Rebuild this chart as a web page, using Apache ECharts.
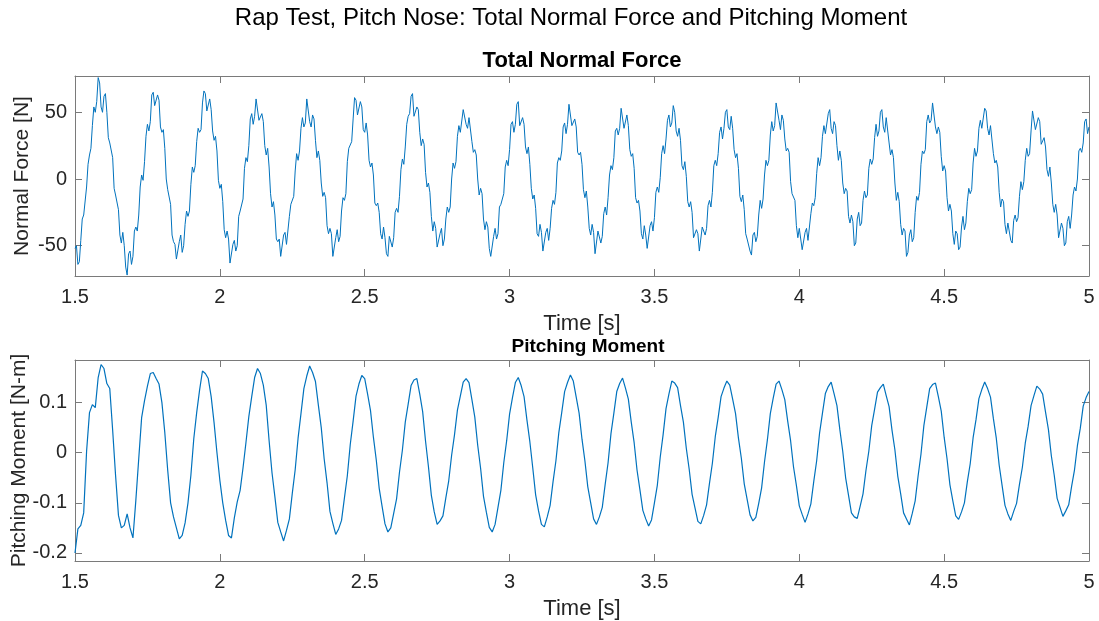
<!DOCTYPE html>
<html>
<head>
<meta charset="utf-8">
<script src="https://cdn.jsdelivr.net/npm/echarts@6/dist/echarts.min.js"></script>
<style>
  html, body { margin: 0; padding: 0; background: #fff; }
  #chart { width: 1099px; height: 621px; }
</style>
</head>
<body>
<div id="chart"></div>
<script>
// force read every 5 ms, moment every 10 ms, both from 1.50 s to 5.00 s
const forceStart = 300;   // in 1/200 s
const momentStart = 150;  // in 1/100 s
const timeTicks = [1.5, 2, 2.5, 3, 3.5, 4, 4.5, 5];
const forceTicks = [-50, 0, 50];
const momentTicks = [-0.2, -0.1, 0, 0.1];

const forceValues = [
  -52, -50, -64, -62, -46, -30, -27, -26, -6, 11, 18, 23, 40, 54, 50, 58, 76, 72, 54, 50,
  62, 64, 50, 31, 27, 28, 16, -7, -12, -13, -23, -42, -48, -40, -50, -66, -72, -56, -54, -64,
  -58, -39, -36, -39, -27, -6, 3, -1, 13, 32, 41, 36, 43, 63, 65, 55, 54, 63, 59, 39,
  35, 37, 23, 0, -8, -8, -19, -42, -47, -49, -60, -60, -47, -42, -55, -50, -34, -24, -28, -24,
  -4, 9, 5, 10, 28, 38, 35, 37, 57, 66, 64, 51, 50, 60, 52, 36, 29, 32, 21, -1,
  -7, -4, -17, -38, -44, -39, -45, -63, -62, -49, -46, -54, -50, -28, -24, -25, -15, 8, 16, 13,
  25, 45, 49, 41, 47, 60, 61, 44, 45, 49, 43, 25, 18, 23, 9, -11, -21, -17, -27, -45,
  -47, -45, -58, -57, -42, -40, -49, -48, -28, -19, -20, -13, 6, 19, 14, 21, 38, 46, 39, 42,
  60, 60, 43, 39, 48, 45, 29, 16, 21, 14, -3, -13, -10, -14, -35, -41, -37, -41, -58, -59,
  -44, -38, -47, -43, -24, -14, -16, -11, 13, 23, 23, 28, 45, 61, 59, 48, 47, 58, 54, 37,
  35, 42, 33, 14, 9, 12, 3, -18, -20, -18, -25, -41, -45, -36, -44, -56, -58, -43, -42, -51,
  -44, -25, -22, -25, -13, 7, 15, 11, 24, 41, 47, 49, 62, 64, 47, 46, 54, 52, 35, 25,
  30, 26, 5, -6, -3, -10, -28, -39, -32, -37, -51, -52, -41, -37, -50, -45, -30, -21, -25, -21,
  0, 12, 8, 13, 32, 40, 35, 35, 52, 52, 41, 38, 46, 46, 28, 20, 22, 18, 0, -12,
  -7, -11, -30, -38, -32, -36, -52, -58, -58, -43, -37, -45, -41, -21, -19, -20, -11, 9, 14, 10,
  22, 41, 43, 35, 41, 56, 58, 40, 40, 46, 41, 24, 19, 24, 11, -7, -15, -12, -22, -41,
  -43, -34, -40, -54, -54, -40, -37, -46, -37, -22, -16, -19, -10, 12, 16, 14, 21, 39, 42, 34,
  41, 56, 55, 40, 39, 45, 39, 20, 18, 20, 11, -8, -14, -9, -21, -37, -42, -34, -40, -56,
  -55, -39, -39, -48, -43, -26, -21, -27, -14, 3, 10, 7, 16, 36, 38, 33, 38, 53, 53, 38,
  39, 48, 40, 22, 17, 19, 8, -14, -18, -16, -24, -41, -45, -35, -42, -52, -52, -35, -32, -39,
  -29, -10, -6, -10, 1, 19, 25, 19, 30, 44, 48, 39, 42, 55, 50, 36, 32, 38, 29, 10,
  7, 13, 2, -17, -21, -17, -25, -44, -45, -38, -41, -54, -54, -36, -36, -42, -37, -20, -16, -21,
  -10, 10, 14, 10, 19, 35, 39, 30, 38, 50, 52, 39, 37, 47, 38, 22, 16, 19, 8, -13,
  -17, -12, -23, -41, -45, -44, -54, -57, -42, -40, -47, -43, -27, -16, -22, -15, 3, 14, 10, 14,
  33, 43, 36, 40, 57, 57, 44, 37, 48, 44, 30, 21, 23, 20, -2, -11, -10, -16, -35, -44,
  -37, -37, -53, -54, -40, -37, -46, -45, -26, -18, -20, -14, 4, 16, 10, 16, 32, 40, 34, 34,
  49, 52, 38, 34, 43, 40, 25, 14, 21, 14, -3, -11, -7, -9, -28, -33, -27, -32, -50, -48,
  -30, -25, -35, -33, -16, -9, -14, -12, 8, 15, 11, 15, 31, 41, 32, 36, 50, 52, 39, 35,
  46, 45, 27, 18, 22, 16, -3, -16, -10, -17, -34, -42, -37, -39, -58, -55, -42, -38, -47, -44,
  -25, -13, -16, -10, 11, 21, 19, 22, 43, 48, 42, 44, 57, 57, 39, 34, 39, 35, 17, 6,
  10, 6, -14, -24, -19, -24, -41, -49, -39, -41, -53, -51, -36, -28, -38, -33, -17, -7, -11, -8,
  12, 23, 17, 21, 38, 44, 38, 37, 53, 51, 38, 33, 40, 39, 19, 12, 14, 9, -10, -21,
  -15, -17, -34, -41, -33, -34, -46, -48, -31, -27, -32, -29, -13, -2, -8, -2, 14, 23, 17, 19,
  36, 51, 50, 37, 37, 46, 43, 26, 27, 31, 24, 7, 2, 9, -3, -19, -25, -19, -27, -44,
  -44, -33, -37, -50, -48, -32, -28, -37, -27, -12, -6, -9, 0, 21, 23, 20, 27, 43, 45, 34,
  39
];

const momentValues = [
  -0.200, -0.152, -0.145, -0.120, 0.003, 0.080, 0.096, 0.090, 0.150, 0.176,
  0.168, 0.138, 0.128, 0.045, -0.045, -0.125, -0.150, -0.145, -0.122, -0.150,
  -0.170, -0.095, -0.012, 0.070, 0.104, 0.133, 0.158, 0.160, 0.148, 0.137,
  0.100, 0.040, -0.035, -0.100, -0.128, -0.150, -0.172, -0.165, -0.140, -0.100,
  -0.045, 0.028, 0.080, 0.125, 0.163, 0.158, 0.148, 0.112, 0.060, 0.000,
  -0.055, -0.100, -0.135, -0.165, -0.170, -0.130, -0.098, -0.075, -0.030, 0.020,
  0.072, 0.112, 0.150, 0.168, 0.158, 0.135, 0.095, 0.024, -0.040, -0.088,
  -0.139, -0.158, -0.176, -0.155, -0.132, -0.081, -0.034, 0.029, 0.078, 0.128,
  0.153, 0.173, 0.160, 0.142, 0.095, 0.050, -0.012, -0.060, -0.117, -0.141,
  -0.163, -0.152, -0.135, -0.090, -0.046, 0.016, 0.063, 0.113, 0.137, 0.154,
  0.148, 0.117, 0.084, 0.031, -0.015, -0.071, -0.107, -0.142, -0.158, -0.150,
  -0.121, -0.092, -0.039, 0.005, 0.061, 0.097, 0.134, 0.145, 0.148, 0.117,
  0.082, 0.023, -0.028, -0.085, -0.118, -0.143, -0.136, -0.126, -0.090, -0.056,
  -0.005, 0.036, 0.085, 0.113, 0.141, 0.148, 0.140, 0.106, 0.071, 0.015,
  -0.031, -0.087, -0.119, -0.149, -0.158, -0.143, -0.109, -0.075, -0.020, 0.024,
  0.077, 0.110, 0.140, 0.150, 0.134, 0.112, 0.065, 0.022, -0.030, -0.084,
  -0.116, -0.143, -0.148, -0.128, -0.105, -0.058, -0.016, 0.040, 0.080, 0.122,
  0.140, 0.155, 0.143, 0.111, 0.079, 0.027, -0.016, -0.068, -0.100, -0.132,
  -0.143, -0.128, -0.109, -0.063, -0.020, 0.038, 0.079, 0.122, 0.138, 0.149,
  0.129, 0.107, 0.061, 0.020, -0.035, -0.074, -0.115, -0.132, -0.146, -0.134,
  -0.100, -0.065, -0.009, 0.036, 0.088, 0.117, 0.143, 0.139, 0.130, 0.094,
  0.061, 0.009, -0.033, -0.083, -0.110, -0.137, -0.142, -0.125, -0.104, -0.061,
  -0.021, 0.032, 0.070, 0.112, 0.129, 0.143, 0.135, 0.107, 0.078, 0.029,
  -0.011, -0.062, -0.093, -0.124, -0.136, -0.129, -0.101, -0.070, -0.018, 0.026,
  0.078, 0.109, 0.137, 0.143, 0.126, 0.106, 0.063, 0.024, -0.028, -0.065,
  -0.106, -0.123, -0.139, -0.122, -0.102, -0.057, -0.016, 0.039, 0.079, 0.118,
  0.132, 0.141, 0.118, 0.094, 0.046, 0.003, -0.050, -0.085, -0.120, -0.128,
  -0.131, -0.107, -0.082, -0.036, 0.003, 0.054, 0.087, 0.121, 0.130, 0.137,
  0.114, 0.092, 0.045, 0.006, -0.047, -0.082, -0.120, -0.132, -0.144, -0.121,
  -0.096, -0.047, -0.003, 0.054, 0.091, 0.128, 0.136, 0.139, 0.112, 0.083,
  0.031, -0.012, -0.064, -0.096, -0.126, -0.133, -0.118, -0.100, -0.058, -0.022,
  0.030, 0.066, 0.108, 0.126, 0.141, 0.128, 0.111, 0.068, 0.029, -0.025,
  -0.065, -0.105, -0.122, -0.135, -0.117, -0.101, -0.063, -0.029, 0.019, 0.053,
  0.094, 0.114, 0.133, 0.127, 0.117, 0.081, 0.046, -0.006, -0.045, -0.091,
  -0.109, -0.127, -0.116, -0.104, -0.067, -0.034, 0.014, 0.049, 0.093, 0.110,
  0.122
];

const fontFamily = '"Liberation Sans", Arial, Helvetica, sans-serif';
const boxColor = '#7a7a7a';
const textColor = '#262626';
const lineColor = '#0072bd';

const forcePairs = forceValues.map((v, i) => [(forceStart + i) / 200, v]);
const momentPairs = momentValues.map((v, i) => [(momentStart + i) / 100, v]);

function timeAxis(gridIndex, position, showName) {
  return {
    type: 'value',
    gridIndex,
    position,
    min: 1.5,
    max: 5,
    interval: 0.5,
    name: showName ? 'Time [s]' : '',
    nameLocation: 'middle',
    nameGap: 37,
    nameMoveOverlap: false,
    nameTextStyle: { fontFamily, fontSize: 22, color: textColor },
    axisLine: { onZero: false, lineStyle: { color: boxColor, width: 1 } },
    axisTick: { inside: true, length: 7, customValues: timeTicks, lineStyle: { color: boxColor } },
    axisLabel: {
      show: position === 'bottom',
      customValues: timeTicks,
      margin: 11,
      fontFamily,
      fontSize: 20,
      color: textColor
    },
    splitLine: { show: false }
  };
}

function valueAxis(gridIndex, position, range, ticks, name, nameGap) {
  return {
    type: 'value',
    gridIndex,
    position,
    min: range[0],
    max: range[1],
    name: name || '',
    nameLocation: 'middle',
    nameGap,
    nameMoveOverlap: false,
    nameTextStyle: { fontFamily, fontSize: 21, color: textColor },
    axisLine: { show: true, onZero: false, lineStyle: { color: boxColor, width: 1 } },
    axisTick: { show: true, inside: true, length: 7, customValues: ticks, lineStyle: { color: boxColor } },
    axisLabel: {
      show: position === 'left',
      customValues: ticks,
      margin: 8,
      fontFamily,
      fontSize: 20,
      color: textColor
    },
    splitLine: { show: false }
  };
}

const chart = echarts.init(document.getElementById('chart'));
chart.setOption({
  animation: false,
  backgroundColor: '#ffffff',
  title: [
    {
      text: 'Rap Test, Pitch Nose: Total Normal Force and Pitching Moment',
      left: 571, top: 6, padding: 0, textAlign: 'center',
      textStyle: { fontFamily, fontSize: 24, fontWeight: 'normal', color: '#000' }
    },
    {
      text: 'Total Normal Force',
      left: 582, top: 50, padding: 0, textAlign: 'center',
      textStyle: { fontFamily, fontSize: 22, fontWeight: 'bold', color: '#000' }
    },
    {
      text: 'Pitching Moment',
      left: 588, top: 337, padding: 0, textAlign: 'center',
      textStyle: { fontFamily, fontSize: 19, fontWeight: 'bold', color: '#000' }
    }
  ],
  grid: [
    { left: 75, right: 10, top: 76, height: 200, outerBoundsMode: 'none', containLabel: false },
    { left: 75, right: 10, top: 360, height: 201, outerBoundsMode: 'none', containLabel: false }
  ],
  xAxis: [
    timeAxis(0, 'bottom', true),
    timeAxis(0, 'top', false),
    timeAxis(1, 'bottom', true),
    timeAxis(1, 'top', false)
  ],
  yAxis: [
    valueAxis(0, 'left', [-72.7, 77.2], forceTicks, 'Normal Force [N]', 42),
    valueAxis(0, 'right', [-72.7, 77.2], forceTicks, '', 0),
    valueAxis(1, 'left', [-0.216, 0.185], momentTicks, 'Pitching Moment [N-m]', 45),
    valueAxis(1, 'right', [-0.216, 0.185], momentTicks, '', 0)
  ],
  series: [
    {
      name: 'Total Normal Force',
      type: 'line',
      xAxisIndex: 0,
      yAxisIndex: 0,
      showSymbol: false,
      lineStyle: { color: lineColor, width: 1 },
      data: forcePairs
    },
    {
      name: 'Pitching Moment',
      type: 'line',
      xAxisIndex: 2,
      yAxisIndex: 2,
      showSymbol: false,
      lineStyle: { color: lineColor, width: 1.2 },
      data: momentPairs
    }
  ]
});
</script>
</body>
</html>
